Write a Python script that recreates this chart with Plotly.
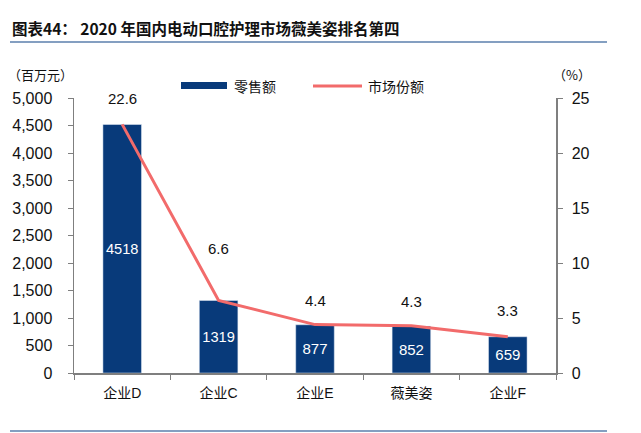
import plotly.graph_objects as go

categories = ["企业D", "企业C", "企业E", "薇美姿", "企业F"]
sales = [4518, 1319, 877, 852, 659]
share = [22.6, 6.6, 4.4, 4.3, 3.3]
share_label_shift = [26, 52, 24, 24, 26]

W, H = 641, 433
L, R, T, B = 74, 85, 98, 60
pw, ph = W - L - R, H - T - B

def px(x):
    return (x - L) / pw

def py(y):
    return (H - B - y) / ph

FONT = "Liberation Sans, Arial, Noto Sans CJK SC, sans-serif"
CJK = "Noto Sans CJK SC, sans-serif"
BAR_C = "#083a7a"
LINE_C = "#f26b6b"
AX_C = "#7f7f7f"

fig = go.Figure()
fig.add_trace(go.Bar(
    x=categories, y=sales, name="零售额", marker_color=BAR_C, width=0.4,
    text=[str(v) for v in sales], textposition="inside", insidetextanchor="middle",
    textfont=dict(color="white", size=15, family=FONT), textangle=0,
    yaxis="y", showlegend=False, hoverinfo="skip",
))
fig.add_trace(go.Scatter(
    x=categories, y=share, name="市场份额", mode="lines",
    line=dict(color=LINE_C, width=3), yaxis="y2", showlegend=False, hoverinfo="skip",
))
for c, s, sh in zip(categories, share, share_label_shift):
    fig.add_annotation(x=c, y=s, xref="x", yref="y2", text=f"{s}", showarrow=False,
                       yshift=sh, font=dict(size=15, color="#111", family=FONT))

fig.update_layout(
    width=W, height=H, margin=dict(l=L, r=R, t=T, b=B, autoexpand=False),
    plot_bgcolor="white", paper_bgcolor="white",
    font=dict(family=FONT, size=15, color="#111"),
    showlegend=False,
    bargap=0.6,
    xaxis=dict(showline=True, linecolor=AX_C, linewidth=1.5, ticks="outside",
               tickson="boundaries", ticklen=5, tickcolor=AX_C,
               tickfont=dict(size=14, family=FONT), ticklabelstandoff=7,
               showgrid=False),
    yaxis=dict(range=[0, 5000], dtick=500, tickformat=",", showline=True, linecolor=AX_C,
               linewidth=1.5, ticks="outside", ticklen=5, tickcolor=AX_C, showgrid=False,
               zeroline=False, tickfont=dict(size=16), ticklabelstandoff=12),
    yaxis2=dict(range=[0, 25], dtick=5, overlaying="y", side="right", showline=True,
                linecolor=AX_C, linewidth=1.5, ticks="outside", ticklen=5, tickcolor=AX_C,
                showgrid=False, zeroline=False, tickfont=dict(size=16), ticklabelstandoff=6),
    title=dict(text="<b>图表44： 2020 年国内电动口腔护理市场薇美姿排名第四</b>",
               xref="container", yref="container", x=12 / W, y=1 - 30 / H,
               xanchor="left", yanchor="middle",
               font=dict(size=15.5, color="#111", family=CJK)),
)

# custom legend
fig.add_shape(type="rect", xref="paper", yref="paper", x0=px(181), x1=px(227),
              y0=py(89), y1=py(82), fillcolor=BAR_C, line=dict(width=0))
fig.add_annotation(xref="paper", yref="paper", x=px(232), y=py(86), text="零售额",
                   xanchor="left", yanchor="middle", showarrow=False,
                   font=dict(size=14, family=CJK))
fig.add_shape(type="line", xref="paper", yref="paper", x0=px(313), x1=px(362),
              y0=py(86), y1=py(86), line=dict(color=LINE_C, width=3))
fig.add_annotation(xref="paper", yref="paper", x=px(366), y=py(86), text="市场份额",
                   xanchor="left", yanchor="middle", showarrow=False,
                   font=dict(size=14, family=CJK))

fig.add_annotation(xref="paper", yref="paper", x=px(40), y=py(75), text="（百万元）",
                   xanchor="center", yanchor="middle",
                   showarrow=False, font=dict(size=13, family=CJK))
fig.add_annotation(xref="paper", yref="paper", x=px(572), y=py(75), text="（%）",
                   xanchor="center", yanchor="middle",
                   showarrow=False, font=dict(size=13, family=CJK))

fig.add_shape(type="line", xref="paper", yref="paper", x0=px(10), x1=px(607),
              y0=py(42), y1=py(42), line=dict(color="#5b7fad", width=1.5))
fig.add_shape(type="line", xref="paper", yref="paper", x0=px(10), x1=px(607),
              y0=py(431), y1=py(431), line=dict(color="#5b7fad", width=1.5))

fig.write_html("out.html", config={"displayModeBar": False, "staticPlot": True},
               post_script="document.body.style.margin='0';document.body.style.overflow='hidden';")
